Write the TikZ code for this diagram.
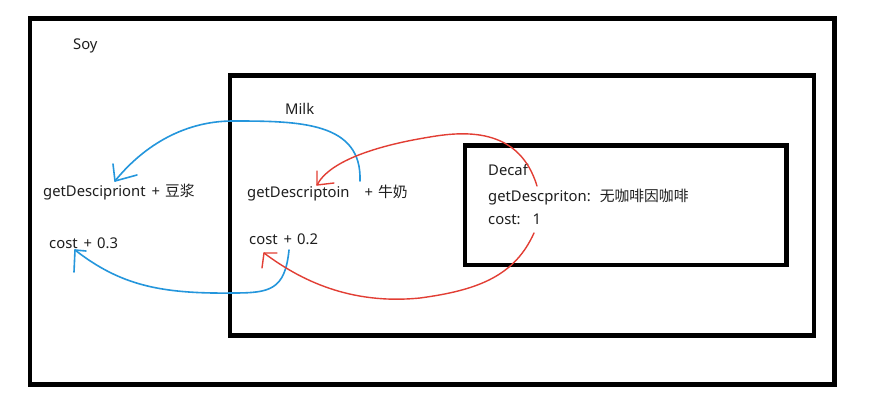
\documentclass[tikz,border=0pt]{standalone}
\usepackage{fontspec}
\setmainfont{Noto Sans}
\newfontfamily\cjk{Noto Sans CJK SC}
\definecolor{bluec}{RGB}{36,150,220}
\definecolor{redc}{RGB}{226,62,52}
\definecolor{txt}{RGB}{30,30,30}
\begin{document}
\begin{tikzpicture}[x=1pt,y=-1pt,
  frame/.style={draw=black,line width=4.5pt,line join=miter,inner sep=0pt,outer sep=0pt,anchor=north west},
  lbl/.style={anchor=base west,inner sep=0pt,text=txt,font=\fontsize{14.8pt}{16pt}\selectfont},
  bluestroke/.style={draw=bluec,line width=1.6pt,line cap=round,line join=round},
  redstroke/.style={draw=redc,line width=1.4pt,line cap=round,line join=round}]
\useasboundingbox (0,0) rectangle (869,403);
\fill[white] (0,0) rectangle (869,403);
% boxes
\node[frame,minimum width=804.5pt,minimum height=366pt] (soybox) at (30,18.5) {};
\node[frame,minimum width=584pt,minimum height=260pt] (milkbox) at (230,75.5) {};
\node[frame,minimum width=321.5pt,minimum height=119.5pt] (decafbox) at (465,145.5) {};
% texts
\node[lbl] (soy) at (73,50) {Soy};
\node[lbl] (milk) at (285,115) {Milk};
\node[lbl] (soydesc) at (43,197) {getDescipriont\hspace{6pt}+\hspace{5pt}{\cjk 豆浆}};
\node[lbl] (soycost) at (49,248) {cost\hspace{6pt}+\hspace{5pt}0.3};
\node[lbl] (milkdesc) at (247,198) {getDescriptoin\hspace{15pt}+\hspace{5pt}{\cjk 牛奶}};
\node[lbl] (milkcost) at (249,244) {cost\hspace{6pt}+\hspace{5pt}0.2};
\node[lbl] (decaf) at (488,176) {Decaf};
\node[lbl] (decafdesc) at (488,202) {getDescpriton:\hspace{9pt}{\cjk 无咖啡因咖啡}};
\node[lbl] (decafcost) at (488,225) {cost:\hspace{12pt}1};
% connector end points
\coordinate (bts) at (360,181);
\coordinate (btm) at (233,121);
\coordinate (bte) at (115,181);
\coordinate (bbs) at (289,250);
\coordinate (bbm) at (233,293);
\coordinate (bbe) at (75,250);
\coordinate (rts) at (537,186);
\coordinate (rtm) at (430,137);
\coordinate (rte) at (317,185);
\coordinate (rbs) at (534,233);
\coordinate (rbm) at (420,298);
\coordinate (rbe) at (264,253);
% blue curves
\draw[bluestroke] (bts) .. controls (362,122) and (300,121) .. (btm)
  .. controls (180,121) and (140,150) .. (bte);
\draw[bluestroke] (113,164) -- (bte) -- (137,175);
\draw[bluestroke] (bbs) .. controls (285,290) and (270,293) .. (bbm)
  .. controls (160,294) and (120,285) .. (bbe);
\draw[bluestroke] (74,272) -- (bbe) -- (86,251);
% red curves
\draw[redstroke] (rts) .. controls (520,130) and (470,130) .. (rtm)
  .. controls (380,145) and (330,160) .. (rte);
\draw[redstroke] (317,171) -- (rte) -- (334,183);
\draw[redstroke] (rbs) .. controls (515,275) and (480,290) .. (rbm)
  .. controls (350,305) and (300,280) .. (rbe);
\draw[redstroke] (262,268) -- (rbe) -- (277,253);
\end{tikzpicture}
\end{document}
